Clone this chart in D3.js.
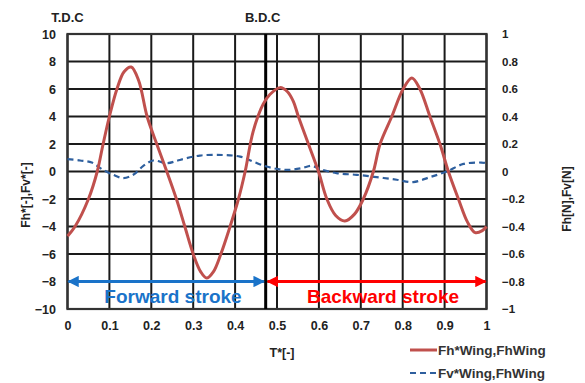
<!DOCTYPE html>
<html>
<head>
<meta charset="utf-8">
<script src="https://cdn.jsdelivr.net/npm/d3@7"></script>
<style>
  body { margin: 0; background: #fff; }
  text { font-family: "Liberation Sans", Arial, sans-serif; }
</style>
</head>
<body>
<div id="chart"></div>
<script>
// horizontal force, dimensionless (left axis)
const fhT = [0, 0.018, 0.05, 0.071, 0.085, 0.1, 0.118, 0.135, 0.152, 0.17, 0.19, 0.213, 0.237, 0.26, 0.28, 0.3, 0.318, 0.332, 0.348, 0.366, 0.388, 0.408, 0.424, 0.443, 0.467, 0.483, 0.507, 0.525, 0.539, 0.551, 0.575, 0.599, 0.619, 0.64, 0.662, 0.685, 0.706, 0.73, 0.746, 0.774, 0.801, 0.822, 0.841, 0.865, 0.889, 0.909, 0.933, 0.955, 0.973, 0.99, 1];
const fhV = [-4.7, -4, -2, 0, 2, 4, 6, 7.25, 7.6, 6.6, 4, 2, 0, -2, -4, -6, -7.3, -7.75, -7.3, -6, -4, -2, 0, 2.9, 4.9, 5.6, 6.1, 5.8, 5.1, 4, 2, 0, -2, -3.2, -3.6, -3.1, -2, 0, 2, 4, 6, 6.8, 6, 4, 2, 0, -2, -3.7, -4.45, -4.3, -4];

// vertical force, dimensionless (left axis)
const fvT = [0, 0.03, 0.058, 0.085, 0.109, 0.133, 0.157, 0.181, 0.205, 0.237, 0.268, 0.316, 0.372, 0.412, 0.443, 0.475, 0.503, 0.531, 0.56, 0.583, 0.603, 0.642, 0.69, 0.738, 0.786, 0.825, 0.865, 0.905, 0.945, 0.988, 1];
const fvV = [0.9, 0.8, 0.65, 0.12, -0.24, -0.48, -0.24, 0.41, 0.8, 0.6, 0.84, 1.16, 1.2, 1.08, 0.72, 0.36, 0.17, 0.12, 0.25, 0.41, 0.17, -0.12, -0.24, -0.41, -0.6, -0.77, -0.41, 0, 0.55, 0.65, 0.6];

const xTicks = [0, 0.1, 0.2, 0.3, 0.4, 0.5, 0.6, 0.7, 0.8, 0.9, 1];
const yTicks = [-10, -8, -6, -4, -2, 0, 2, 4, 6, 8, 10];
const y2Ticks = [-1, -0.8, -0.6, -0.4, -0.2, 0, 0.2, 0.4, 0.6, 0.8, 1];
const bdc = 0.473;
const arrowLevel = -8;
const legendNames = ["Fh*Wing,FhWing", "Fv*Wing,FhWing"];

const W = 585, H = 383;
const svg = d3.select("#chart").append("svg")
  .attr("width", W).attr("height", H);

const x = d3.scaleLinear().domain([0, 1]).range([67.5, 486.5]);
const y = d3.scaleLinear().domain([-10, 10]).range([309, 34]);
const y2 = d3.scaleLinear().domain([-1, 1]).range([309, 34]);

// grid
const grid = svg.append("g");
grid.selectAll("line.v").data(xTicks).enter().append("line")
  .attr("x1", d => x(d)).attr("x2", d => x(d))
  .attr("y1", y(-10)).attr("y2", y(10))
  .attr("stroke", "#1a1a1a").attr("stroke-width", 2);
grid.selectAll("line.h").data(yTicks).enter().append("line")
  .attr("x1", x(0)).attr("x2", x(1))
  .attr("y1", d => y(d)).attr("y2", d => y(d))
  .attr("stroke", "#1a1a1a").attr("stroke-width", 2);
grid.append("rect")
  .attr("x", x(0)).attr("y", y(10))
  .attr("width", x(1) - x(0)).attr("height", y(-10) - y(10))
  .attr("fill", "none").attr("stroke", "#333").attr("stroke-width", 2.2);

// BDC marker
svg.append("line")
  .attr("x1", x(bdc)).attr("x2", x(bdc))
  .attr("y1", y(-10)).attr("y2", y(10))
  .attr("stroke", "#000").attr("stroke-width", 3);

// axes labels
const yAxis = d3.axisLeft(y).tickValues(yTicks).tickSize(0).tickPadding(0);
svg.append("g").attr("transform", "translate(56,0)").call(yAxis)
  .call(g => g.select(".domain").remove())
  .selectAll("text").attr("font-size", 12.5).attr("font-weight", "bold")
  .attr("font-family", "Liberation Sans, Arial").attr("fill", "#222");

const y2Axis = d3.axisRight(y2).tickValues(y2Ticks).tickSize(0).tickPadding(0)
  .tickFormat(d => d3.format("")(+d.toFixed(1)));
svg.append("g").attr("transform", "translate(502,0)").call(y2Axis)
  .call(g => g.select(".domain").remove())
  .selectAll("text").attr("font-size", 11.5).attr("font-weight", "bold")
  .attr("font-family", "Open Sans, sans-serif").attr("fill", "#222");

const xAxis = d3.axisBottom(x).tickValues(xTicks).tickSize(0).tickPadding(0)
  .tickFormat(d => d3.format("")(+d.toFixed(1)));
svg.append("g").attr("transform", "translate(0,321)").call(xAxis)
  .call(g => g.select(".domain").remove())
  .selectAll("text").attr("font-size", 12.5).attr("font-weight", "bold")
  .attr("font-family", "Liberation Sans, Arial").attr("fill", "#222");

svg.append("text").attr("x", 282).attr("y", 357).attr("text-anchor", "middle")
  .attr("font-size", 12.5).attr("font-weight", "bold").attr("fill", "#222").text("T*[-]");
svg.append("text").attr("transform", "translate(30,195) rotate(-90)")
  .attr("text-anchor", "middle").attr("font-size", 12).attr("font-weight", "bold")
  .attr("fill", "#222").text("Fh*[-],Fv*[-]");
svg.append("text").attr("transform", "translate(571,199) rotate(-90)")
  .attr("text-anchor", "middle").attr("font-size", 12).attr("font-weight", "bold")
  .attr("font-family", "Open Sans, sans-serif").attr("fill", "#222").text("Fh[N],Fv[N]");

svg.append("text").attr("x", x(0)).attr("y", 22).attr("text-anchor", "middle")
  .attr("font-size", 13).attr("font-weight", "bold").attr("fill", "#222").text("T.D.C");
svg.append("text").attr("x", x(bdc) - 3).attr("y", 22).attr("text-anchor", "middle")
  .attr("font-size", 13).attr("font-weight", "bold").attr("fill", "#222").text("B.D.C");

// curves
const line = d3.line().x(d => x(d[0])).y(d => y(d[1])).curve(d3.curveCatmullRom.alpha(0.5));
svg.append("path").datum(fvT.map((t, i) => [t, fvV[i]]))
  .attr("d", line).attr("fill", "none")
  .attr("stroke", "#2e5f9e").attr("stroke-width", 2.2).attr("stroke-dasharray", "6,4");
svg.append("path").datum(fhT.map((t, i) => [t, fhV[i]]))
  .attr("d", line).attr("fill", "none")
  .attr("stroke", "#c0504d").attr("stroke-width", 3);

// stroke arrows
const defs = svg.append("defs");
function marker(id, color) {
  defs.append("marker").attr("id", id).attr("viewBox", "0 0 10 10")
    .attr("refX", 9).attr("refY", 5).attr("markerWidth", 3.8).attr("markerHeight", 3.8)
    .attr("markerUnits", "strokeWidth").attr("orient", "auto-start-reverse")
    .append("path").attr("d", "M0,0L10,5L0,10Z").attr("fill", color);
}
marker("ab", "#1a73c9");
marker("ar", "#ff0000");

svg.append("line")
  .attr("x1", x(0) + 1).attr("x2", x(bdc) - 2)
  .attr("y1", y(arrowLevel)).attr("y2", y(arrowLevel))
  .attr("stroke", "#1a73c9").attr("stroke-width", 3)
  .attr("marker-start", "url(#ab)").attr("marker-end", "url(#ab)");
svg.append("line")
  .attr("x1", x(bdc) + 2).attr("x2", x(1) - 1)
  .attr("y1", y(arrowLevel)).attr("y2", y(arrowLevel))
  .attr("stroke", "#ff0000").attr("stroke-width", 3)
  .attr("marker-start", "url(#ar)").attr("marker-end", "url(#ar)");

svg.append("text").attr("x", 173).attr("y", 303).attr("text-anchor", "middle")
  .attr("font-family", "Open Sans, sans-serif").attr("font-size", 19).attr("font-weight", "bold")
  .attr("fill", "#1a73c9").text("Forward stroke");
svg.append("text").attr("x", 383).attr("y", 303).attr("text-anchor", "middle")
  .attr("font-family", "Open Sans, sans-serif").attr("font-size", 19).attr("font-weight", "bold")
  .attr("fill", "#ff0000").text("Backward stroke");

// legend
const leg = svg.append("g");
leg.append("line").attr("x1", 410).attr("x2", 437).attr("y1", 350).attr("y2", 350)
  .attr("stroke", "#c0504d").attr("stroke-width", 3);
leg.append("line").attr("x1", 410).attr("x2", 437).attr("y1", 373).attr("y2", 373)
  .attr("stroke", "#2e5f9e").attr("stroke-width", 2).attr("stroke-dasharray", "6,4");
leg.selectAll("text").data(legendNames).enter().append("text")
  .attr("x", 438).attr("y", (d, i) => 355 + i * 23)
  .attr("font-family", "Open Sans, sans-serif").attr("font-size", 13.5).attr("font-weight", 600)
  .attr("fill", "#333").text(d => d);
</script>
</body>
</html>
